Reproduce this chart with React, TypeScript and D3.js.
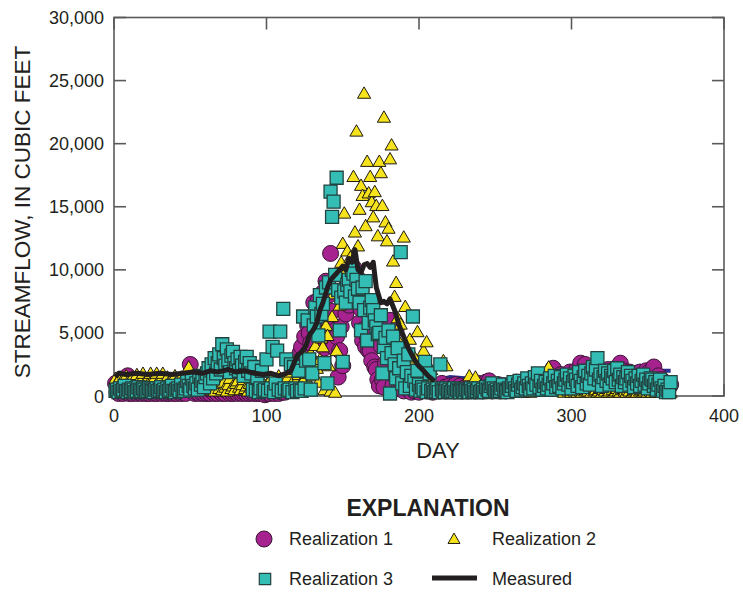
import React from "react";
import * as d3 from "d3";

// daily streamflow, thousands of cubic feet, days 1..365
const realization1: number[] = [
  1.0, 0.3, 0.2, 0.4, 0.3, 0.2, 0.5, 0.3, 1.6, 0.2,
  0.3, 0.2, 0.4, 0.3, 0.2, 0.3, 0.5, 0.2, 0.3, 0.4,
  0.2, 0.3, 0.2, 0.4, 0.3, 0.2, 0.3, 0.2, 0.4, 0.3,
  0.2, 0.3, 0.4, 0.2, 0.3, 0.2, 0.3, 0.5, 0.2, 0.3,
  0.2, 0.4, 0.3, 0.2, 0.3, 0.4, 0.2, 0.6, 1.2, 2.5,
  0.4, 0.3, 0.2, 0.3, 0.5, 0.2, 0.3, 0.4, 0.2, 0.3,
  0.2, 0.3, 0.2, 0.4, 0.3, 0.2, 0.3, 0.2, 0.4, 0.3,
  0.2, 0.3, 0.2, 0.4, 0.3, 0.2, 0.3, 0.2, 0.3, 0.4,
  0.2, 0.3, 1.1, 0.2, 0.3, 0.4, 0.2, 0.3, 0.2, 0.3,
  0.4, 0.2, 0.3, 0.2, 0.3, 0.2, 0.4, 0.3, 0.1, 0.2,
  0.3, 0.2, 0.4, 0.3, 0.2, 0.5, 0.3, 0.2, 0.4, 0.3,
  0.5, 0.3, 0.6, 0.4, 0.8, 0.5, 1.0, 0.7, 1.4, 0.9,
  1.6, 3.4, 3.9, 2.5, 4.7, 3.0, 5.6, 5.0, 4.2, 6.3,
  7.4, 5.8, 6.6, 7.6, 4.9, 7.0, 8.2, 3.8, 9.1, 6.0,
  8.0, 11.3, 6.7, 3.9, 5.2, 4.7, 1.5, 3.6, 5.5, 2.4,
  7.8, 6.5, 8.9, 7.2, 9.0, 9.8, 10.2, 8.4, 7.6, 9.3,
  5.8, 6.9, 4.4, 5.3, 3.9, 4.7, 3.6, 3.6, 2.8, 5.1,
  2.3, 2.1, 1.3, 0.8, 4.0, 1.3, 0.7, 2.6, 5.0, 3.2,
  6.0, 4.3, 0.9, 1.6, 5.3, 2.0, 0.6, 1.1, 1.8, 0.4,
  0.9, 2.6, 0.5, 1.2, 0.3, 0.8, 0.4, 1.5, 0.6, 0.3,
  0.8, 0.5, 1.0, 0.6, 0.4, 0.9, 0.5, 0.7, 0.3, 0.6,
  0.5, 0.8, 0.4, 0.6, 1.0, 0.5, 0.7, 0.4, 0.6, 0.8,
  0.5, 0.7, 0.4, 0.9, 0.6, 0.5, 0.8, 0.4, 0.6, 0.5,
  0.7, 0.4, 0.6, 0.9, 0.5, 0.8, 0.4, 0.6, 1.0, 0.5,
  0.7, 0.4, 0.6, 1.1, 0.5, 1.2, 0.6, 0.4, 0.8, 0.5,
  0.6, 0.9, 0.4, 0.7, 0.5, 0.8, 0.4, 0.6, 0.5, 0.7,
  0.9, 0.5, 0.7, 1.1, 0.6, 0.8, 0.5, 1.0, 0.7, 0.6,
  1.2, 0.7, 0.9, 0.6, 1.4, 0.8, 1.0, 0.7, 1.3, 0.9,
  1.1, 0.8, 1.5, 1.0, 1.3, 0.7, 1.8, 2.2, 1.1, 0.9,
  1.4, 1.0, 1.7, 0.8, 1.2, 1.5, 0.9, 1.3, 1.9, 1.1,
  1.6, 1.2, 2.0, 1.4, 1.1, 2.6, 1.5, 1.8, 2.5, 1.2,
  1.7, 1.3, 2.0, 1.0, 1.6, 1.4, 1.9, 1.2, 1.5, 1.1,
  1.4, 1.8, 1.2, 2.1, 1.5, 1.3, 1.9, 1.6, 2.2, 1.4,
  1.8, 2.6, 1.5, 2.0, 1.3, 1.7, 1.4, 1.9, 1.2, 1.6,
  1.3, 1.8, 1.1, 1.5, 1.9, 1.2, 1.6, 1.4, 2.0, 1.3,
  1.9, 1.5, 1.7, 2.3, 1.4, 1.2, 1.6, 1.0, 1.3, 0.9,
  1.1, 0.8, 1.0, 0.7, 0.9,
];

const realization2: number[] = [
  1.3, 1.0, 0.8, 1.4, 1.1, 0.9, 1.2, 1.5, 1.0, 0.7,
  1.2, 1.4, 0.9, 1.1, 1.6, 1.0, 1.3, 1.2, 1.7, 0.9,
  1.1, 1.3, 1.0, 1.7, 1.2, 0.8, 1.4, 1.7, 1.1, 1.0,
  1.3, 1.7, 0.9, 1.2, 1.4, 1.0, 0.8, 1.3, 1.1, 1.5,
  1.0, 1.2, 0.9, 1.4, 1.1, 1.3, 1.6, 1.0, 2.2, 1.2,
  0.9, 1.1, 0.8, 1.0, 0.7, 1.2, 0.6, 0.9, 0.5, 0.8,
  0.6, 0.9, 0.4, 1.1, 0.7, 0.3, 0.8, 1.2, 0.5, 0.9,
  0.4, 1.0, 0.6, 0.3, 0.8, 1.3, 0.5, 0.7, 0.4, 0.9,
  1.1, 0.6, 0.4, 0.8, 1.2, 0.5, 0.7, 0.3, 0.9, 0.6,
  0.4, 0.8, 1.0, 0.5, 0.3, 0.7, 1.1, 0.4, 0.6, 0.8,
  0.5, 0.9, 1.3, 0.6, 0.4, 1.0, 0.7, 1.5, 0.3, 0.8,
  1.2, 0.5, 0.9, 1.4, 0.6, 1.8, 1.0, 0.7, 2.0, 1.2,
  1.6, 0.8, 2.4, 1.1, 3.0, 1.7, 2.2, 0.9, 3.3, 2.6,
  1.5, 3.9, 2.1, 1.0, 2.8, 4.5, 3.8, 0.4, 5.5, 4.7,
  2.3, 0.3, 6.2, 8.0, 0.2, 3.5, 9.6, 7.1, 10.5, 12.0,
  14.4, 9.8, 11.4, 7.9, 10.9, 8.6, 17.3, 12.9, 20.9, 11.8,
  14.7, 16.6, 15.8, 23.9, 13.4, 18.5, 16.0, 17.3, 15.3, 14.1,
  16.1, 15.0, 12.6, 18.5, 17.6, 15.0, 22.0, 13.7, 12.2, 13.2,
  18.7, 19.8, 10.6, 7.8, 8.9, 6.1, 4.2, 5.6, 3.1, 12.5,
  7.0, 3.4, 1.8, 4.4, 2.6, 1.2, 3.0, 0.9, 5.0, 1.5,
  2.4, 0.8, 3.5, 1.6, 4.2, 1.1, 0.5, 2.0, 0.7, 0.4,
  0.3, 0.6, 0.4, 0.2, 0.5, 2.7, 0.3, 2.3, 0.4, 0.2,
  0.3, 0.5, 0.2, 0.4, 0.3, 0.2, 0.5, 0.3, 0.4, 0.2,
  0.3, 0.4, 1.5, 0.2, 0.3, 0.5, 1.4, 0.3, 0.2, 0.4,
  0.3, 0.2, 0.4, 0.3, 0.5, 0.2, 0.3, 0.4, 0.2, 0.3,
  0.4, 0.2, 0.3, 0.5, 0.2, 0.3, 0.4, 0.2, 0.3, 0.5,
  0.2, 0.4, 0.3, 0.2, 0.5, 0.3, 0.6, 0.2, 0.4, 0.3,
  0.5, 0.3, 0.2, 0.6, 0.4, 0.3, 0.7, 0.5, 0.3, 0.4,
  0.6, 0.3, 0.8, 0.5, 2.2, 1.4, 0.4, 0.6, 0.3, 0.5,
  0.7, 0.4, 0.3, 0.6, 0.2, 0.5, 0.8, 0.3, 0.4, 0.2,
  0.5, 0.3, 0.6, 0.2, 0.4, 0.3, 0.2, 0.5, 0.3, 0.4,
  0.3, 0.5, 0.2, 0.6, 0.3, 0.4, 0.2, 0.3, 0.5, 0.2,
  0.4, 0.3, 0.5, 0.2, 0.3, 0.6, 0.4, 0.2, 0.3, 0.5,
  0.3, 0.2, 0.4, 0.5, 0.3, 0.2, 0.4, 0.3, 0.6, 0.2,
  0.3, 0.4, 0.2, 0.5, 0.3, 0.4, 0.2, 0.3, 0.5, 0.2,
  0.4, 0.3, 0.2, 0.5, 0.3, 0.2, 0.4, 0.3, 0.2, 0.4,
  0.3, 0.2, 0.4, 0.3, 0.2,
];

const realization3: number[] = [
  0.4, 0.5, 0.3, 0.6, 0.4, 0.5, 0.8, 0.4, 0.3, 0.5,
  0.4, 0.6, 0.5, 0.3, 0.4, 0.7, 0.5, 0.4, 0.6, 0.5,
  0.3, 0.4, 0.6, 0.5, 0.4, 0.3, 0.5, 0.6, 0.4, 0.5,
  0.7, 0.4, 0.5, 0.3, 0.6, 0.4, 0.5, 0.8, 0.4, 0.3,
  0.5, 0.6, 0.4, 0.9, 0.5, 0.4, 0.6, 1.2, 0.8, 0.5,
  1.4, 0.8, 0.6, 1.0, 0.5, 1.6, 0.9, 1.2, 0.7, 1.5,
  1.8, 2.2, 1.0, 2.5, 1.4, 3.0, 1.8, 2.6, 3.3, 2.1,
  4.1, 3.0, 2.4, 3.7, 2.8, 1.9, 3.2, 3.5, 2.6, 2.2,
  2.9, 2.0, 3.1, 2.4, 1.6, 2.7, 3.1, 2.0, 2.6, 1.8,
  0.5, 2.3, 0.4, 1.5, 0.3, 0.6, 2.0, 0.4, 0.5, 2.9,
  0.4, 5.1, 0.6, 3.9, 0.3, 1.0, 3.6, 0.5, 5.1, 0.4,
  6.9, 0.6, 2.9, 0.4, 0.5, 2.5, 0.3, 2.3, 0.6, 0.4,
  2.0, 0.5, 0.4, 6.3, 0.6, 2.8, 6.0, 2.9, 0.5, 1.8,
  5.6, 7.0, 6.3, 4.8, 8.0, 6.5, 7.3, 2.6, 8.6, 1.0,
  9.0, 16.2, 14.2, 15.4, 9.6, 17.3, 8.4, 5.2, 7.8, 2.7,
  8.3, 7.4, 8.8, 9.2, 8.3, 10.0, 9.7, 7.9, 9.2, 8.5,
  7.4, 5.2, 8.6, 6.8, 9.1, 4.4, 5.8, 7.0, 7.6, 6.8,
  6.0, 5.5, 4.9, 5.0, 6.4, 1.8, 3.9, 4.6, 3.0, 5.2,
  0.2, 3.4, 4.7, 2.5, 1.4, 3.8, 2.2, 11.4, 1.0, 2.8,
  0.6, 1.9, 3.3, 0.8, 1.6, 6.3, 1.2, 0.5, 2.0, 0.9,
  0.4, 0.7, 0.5, 2.7, 0.3, 0.6, 1.8, 0.4, 0.5, 0.3,
  0.4, 0.6, 0.3, 2.5, 0.5, 0.4, 0.3, 0.6, 0.4, 0.5,
  0.3, 0.4, 0.6, 0.3, 0.5, 0.4, 0.3, 0.5, 0.4, 0.3,
  0.5, 0.4, 0.3, 0.6, 0.4, 0.5, 0.3, 0.4, 0.6, 0.3,
  0.4, 0.5, 0.3, 0.7, 0.5, 0.4, 0.8, 1.0, 0.6, 0.4,
  0.5, 0.3, 0.4, 0.6, 0.9, 0.5, 0.4, 0.3, 0.6, 0.5,
  0.8, 1.1, 0.6, 0.4, 0.9, 1.2, 0.5, 0.7, 1.0, 0.6,
  1.4, 0.8, 0.5, 1.0, 0.6, 1.5, 0.9, 1.8, 0.7, 1.2,
  0.5, 0.8, 1.1, 0.6, 0.9, 1.4, 0.5, 1.0, 1.6, 0.7,
  1.2, 0.8, 1.5, 0.6, 1.0, 1.3, 1.7, 0.9, 1.4, 0.6,
  1.1, 1.6, 1.3, 0.8, 1.9, 1.2, 0.7, 1.5, 2.0, 1.0,
  1.6, 0.9, 1.8, 2.3, 1.4, 2.1, 3.0, 1.3, 1.7, 0.8,
  1.5, 2.0, 1.2, 1.8, 0.9, 1.6, 1.4, 2.0, 1.1, 2.2,
  1.3, 1.7, 0.8, 1.5, 1.1, 1.4, 1.9, 0.9, 1.6, 1.2,
  0.7, 1.4, 1.0, 1.6, 0.8, 1.2, 1.7, 0.9, 1.3, 0.6,
  1.0, 1.4, 1.3, 0.8, 1.1, 0.5, 0.9, 1.3, 0.6, 0.4,
  0.8, 0.3, 0.5, 0.3, 1.1,
];

const measuredDays = [
  1, 3, 8, 15, 22, 30, 38, 45, 52, 58, 63, 68, 75, 80, 86, 92, 98, 103, 108, 113,
  116, 118, 120, 123, 126, 128, 131, 133, 135, 137, 140, 142, 145, 148, 150, 152,
  154, 156, 158, 160, 162, 164, 166, 168, 170, 172, 175, 177, 179, 181, 184, 187,
  190, 193, 196, 199, 203, 206, 210,
];
const measuredFlow = [
  1.5, 1.8, 1.7, 1.8, 1.7, 1.8, 1.7, 1.8, 1.9, 1.8, 2.0, 1.9, 2.1, 1.9, 2.0, 1.8, 1.7, 1.8, 1.6, 1.8,
  2.0, 2.6, 3.2, 3.5, 4.0, 4.8, 5.3, 5.8, 6.8, 7.4, 8.6, 9.2, 9.6, 10.0, 10.3, 10.0,
  10.9, 10.6, 11.6, 10.0, 9.8, 10.4, 10.5, 10.2, 10.6, 8.6, 7.4, 7.5, 7.3, 7.7, 6.8, 5.6,
  4.7, 3.8, 3.1, 2.5, 2.0, 1.6, 1.2,
];

// the dark blue trace that shows between markers after day 210
const blueDays = [210, 220, 230, 240, 250, 260, 270, 280, 290, 300, 310, 320, 330, 340, 350, 360, 365];
const blueFlow = [1.2, 1.5, 1.4, 1.3, 1.3, 1.3, 1.4, 1.4, 1.5, 1.5, 1.6, 1.7, 1.7, 1.8, 1.9, 2.0, 2.0];

const xTicks = [0, 100, 200, 300, 400];
const yTicks = [0, 5000, 10000, 15000, 20000, 25000, 30000];

const width = 743;
const height = 593;
const left = 114;
const right = 724;
const top = 17.5;
const bottom = 396;
const tickLen = 12;

const font = "'Liberation Sans', Arial, Helvetica, sans-serif";
const ink = "#231f20";
const frame = "#5a5a5a";

const purple = "#a6228f";
const yellow = "#f7e31c";
const teal = "#33bdb4";

const x = d3.scaleLinear().domain([0, 400]).range([left, right]);
const y = d3.scaleLinear().domain([0, 30000]).range([bottom, top]);

const circlePath = d3.symbol().type(d3.symbolCircle).size(Math.PI * 64)() || "";
const trianglePath = d3.symbol().type(d3.symbolTriangle).size(75)() || "";
const squarePath = d3.symbol().type(d3.symbolSquare).size(169)() || "";

const legendCircle = d3.symbol().type(d3.symbolCircle).size(Math.PI * 64)() || "";
const legendTriangle = d3.symbol().type(d3.symbolTriangle).size(62)() || "";
const legendSquare = d3.symbol().type(d3.symbolSquare).size(130)() || "";

const line = d3
  .line<[number, number]>()
  .x((d) => x(d[0]))
  .y((d) => y(d[1] * 1000));

const fmt = d3.format(",");

const App = () => {
  const measured = measuredDays.map((d, i) => [d, measuredFlow[i]] as [number, number]);
  const blue = blueDays.map((d, i) => [d, blueFlow[i]] as [number, number]);

  return (
    <svg
      width={width}
      height={height}
      style={{ position: "absolute", left: 0, top: 0, background: "white" }}
    >
      {/* frame with inward ticks */}
      <rect x={left} y={top} width={right - left} height={bottom - top} fill="none" stroke={frame} strokeWidth={1.6} />
      {yTicks.map((t) => (
        <g key={"y" + t}>
          <line x1={left} x2={left + tickLen} y1={y(t)} y2={y(t)} stroke={frame} strokeWidth={1.6} />
          <line x1={right} x2={right - tickLen} y1={y(t)} y2={y(t)} stroke={frame} strokeWidth={1.6} />
          <text x={104} y={y(t) + 6.5} textAnchor="end" fontFamily={font} fontSize={18} fill={ink}>
            {fmt(t)}
          </text>
        </g>
      ))}
      {xTicks.map((t) => (
        <g key={"x" + t}>
          <line x1={x(t)} x2={x(t)} y1={top} y2={top + tickLen} stroke={frame} strokeWidth={1.6} />
          <line x1={x(t)} x2={x(t)} y1={bottom} y2={bottom - tickLen} stroke={frame} strokeWidth={1.6} />
          <text x={x(t)} y={422} textAnchor="middle" fontFamily={font} fontSize={18} fill={ink}>
            {t}
          </text>
        </g>
      ))}

      <path d={line(blue) || ""} fill="none" stroke="#2b2f8e" strokeWidth={4} strokeLinejoin="round" />

      <g fill={purple} stroke="#3b1636" strokeWidth={1}>
        {realization1.map((v, i) => (
          <path key={i} d={circlePath} transform={`translate(${x(i + 1)},${y(v * 1000)})`} />
        ))}
      </g>
      <g fill={yellow} stroke="#1e1a10" strokeWidth={1}>
        {realization2.map((v, i) => (
          <path key={i} d={trianglePath} transform={`translate(${x(i + 1)},${y(v * 1000)})`} />
        ))}
      </g>
      <g fill={teal} stroke="#22423f" strokeWidth={1.3}>
        {realization3.map((v, i) => (
          <path key={i} d={squarePath} transform={`translate(${x(i + 1)},${y(v * 1000)})`} />
        ))}
      </g>

      <path d={line(measured) || ""} fill="none" stroke={ink} strokeWidth={5} strokeLinejoin="round" />

      <text
        transform={`translate(30,212) rotate(-90)`}
        textAnchor="middle"
        fontFamily={font}
        fontSize={22.5}
        fill={ink}
      >
        STREAMFLOW, IN CUBIC FEET
      </text>
      <text x={438} y={458} textAnchor="middle" fontFamily={font} fontSize={22} fill={ink}>
        DAY
      </text>

      {/* explanation */}
      <text x={428} y={516} textAnchor="middle" fontFamily={font} fontSize={23} fontWeight="bold" fill={ink}>
        EXPLANATION
      </text>
      <path d={legendCircle} transform="translate(264,539)" fill={purple} stroke="#3b1636" strokeWidth={1} />
      <text x={289} y={545} fontFamily={font} fontSize={18} fill={ink}>
        Realization 1
      </text>
      <path d={legendTriangle} transform="translate(454,540)" fill={yellow} stroke="#1e1a10" strokeWidth={1} />
      <text x={492} y={545} fontFamily={font} fontSize={18} fill={ink}>
        Realization 2
      </text>
      <path d={legendSquare} transform="translate(265,579)" fill={teal} stroke="#22423f" strokeWidth={1.2} />
      <text x={289} y={585} fontFamily={font} fontSize={18} fill={ink}>
        Realization 3
      </text>
      <line x1={432} x2={477} y1={578} y2={578} stroke={ink} strokeWidth={5} />
      <text x={492} y={585} fontFamily={font} fontSize={18} fill={ink}>
        Measured
      </text>
    </svg>
  );
};

export default App;
